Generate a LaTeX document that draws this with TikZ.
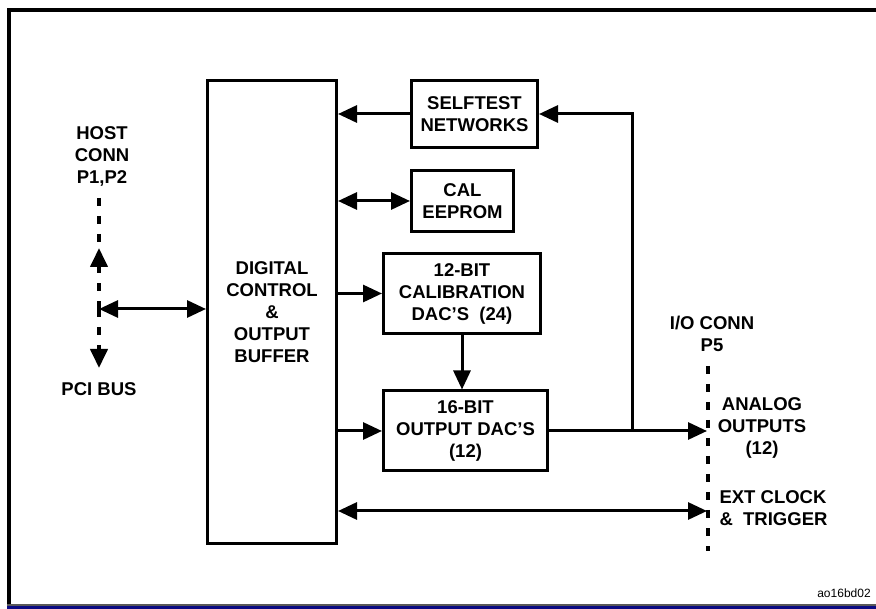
\documentclass[tikz,border=0pt]{standalone}
\usepackage{fontspec}
\setmainfont{Liberation Sans}
\usetikzlibrary{arrows.meta,positioning}
\definecolor{navy}{RGB}{10,10,130}

\begin{document}
\begin{tikzpicture}[x=1pt,y=-1pt,>={Triangle[length=19pt,width=17pt]},
  font=\fontsize{18.5}{22}\selectfont\bfseries,
  blk/.style={draw,line width=3pt,align=center,inner sep=0pt},
  bus/.style={line width=3pt},
  dbus/.style={line width=4pt,dash pattern=on 8pt off 10pt}]
  \useasboundingbox (0,0) rectangle (876,609);
  % frame
  \draw[line width=4pt] (9,606) -- (9,10) -- (876,10);
  \draw[gray!70!black,line width=1.5pt] (7,605) -- (876,605);
  \draw[navy,line width=3pt] (7,607.5) -- (876,607.5);
  % blocks
  \node[blk,minimum width=129pt,minimum height=462pt] (dig) at (272,312)
     {DIGITAL\\CONTROL\\\&\\OUTPUT\\BUFFER};
  \node[blk,minimum width=126pt,minimum height=67pt] (self) at (474.5,114)
     {SELFTEST\\NETWORKS};
  \node[blk,minimum width=102pt,minimum height=61pt] (cal) at (462.5,201)
     {CAL\\EEPROM};
  \node[blk,minimum width=157pt,minimum height=80pt] (cal12) at (462,293.5)
     {12-BIT\\CALIBRATION\\DAC'S~~(24)};
  \node[blk,minimum width=164pt,minimum height=80pt] (dac16) at (465.5,431)
     {16-BIT\\OUTPUT DAC'S\\(12)};
  % connector labels
  \node[align=center] (host) at (102,156) {HOST\\CONN\\P1,P2};
  \node (pci) at (99,389) {PCI BUS};
  \node[align=center] (io) at (712,334) {I/O CONN\\P5};
  \node[align=center] (ana) at (762,428) {ANALOG\\OUTPUTS\\(12)};
  \node[align=left,anchor=west] (clk) at (716,508) {EXT CLOCK\\\&~~TRIGGER};
  \node[font=\fontsize{12}{14}\selectfont] (tag) at (844,593) {ao16bd02};
  % bus end points
  \coordinate (jn) at (99,309);
  \coordinate (hostTop) at (99,198);
  \coordinate (hostMid) at (99,246);
  \coordinate (hostTip) at (99,248);
  \coordinate (pciTip) at (99,368);
  \coordinate (ioTop) at (708,366);
  \coordinate (ioBot) at (708,551);
  \coordinate (aoTip) at (707,431);
  \coordinate (fb) at (632,431);
  \coordinate (clkTip) at (707,511);
  % host side
  \draw[dbus] (hostTop) -- (hostMid);
  \draw[dbus,->] (jn) -- (hostTip);
  \draw[dbus,->] (jn) -- (pciTip);
  \draw[bus,<->] (jn) -- (jn -| dig.west);
  % internal
  \draw[bus,->] (self.west) -- (self.west -| dig.east);
  \draw[bus,<->] (cal.west -| dig.east) -- (cal.west);
  \draw[bus,->] (cal12.west -| dig.east) -- (cal12.west);
  \draw[bus,->] (cal12.south) -- (cal12.south |- dac16.north);
  \draw[bus,->] (dac16.west -| dig.east) -- (dac16.west);
  % outputs
  \draw[bus,->] (dac16.east) -- (aoTip);
  \draw[bus,->] (fb) |- (self.east);
  \draw[bus,<->] (clkTip -| dig.east) -- (clkTip);
  \draw[dbus] (ioTop) -- (ioBot);
\end{tikzpicture}
\end{document}
